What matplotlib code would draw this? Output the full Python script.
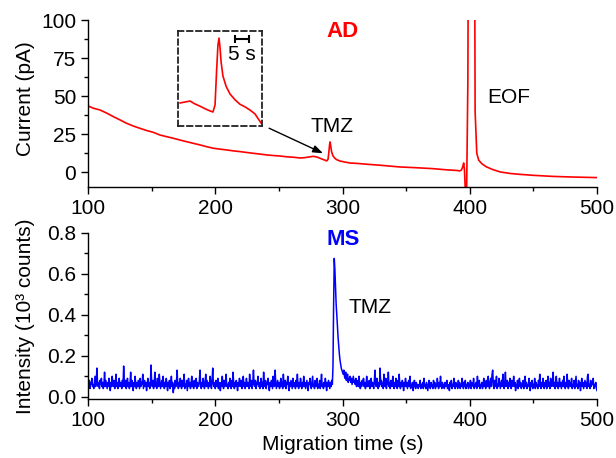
import numpy as np
import matplotlib
matplotlib.use("Agg")
import matplotlib.pyplot as plt
from matplotlib.ticker import MultipleLocator

plt.rcParams['font.family'] = ['Liberation Sans', 'DejaVu Sans']

# ---------------- data ----------------
# AD trace (current, pA) vs migration time (s)
ad_time = [100.2, 104, 109.4, 115, 119.9, 125, 130.4, 136, 140.9, 146, 151.3, 156.6, 161.9,
           167, 172.3, 177.6, 183, 188, 193, 198.5, 204, 209, 214, 219.5, 225, 229.9, 235,
           240.5, 246, 251, 256, 261.4, 266.6, 270, 274, 277, 280, 283, 285.5, 287.6, 288.6,
           289.3, 289.8, 290.2, 290.7, 291.4, 292.5, 294, 295.4, 298, 302, 306, 312, 319,
           330, 345, 358, 371, 382, 390, 392, 393.5, 394.6, 395.2, 395.8, 396.5, 397.5,
           398.5, 399.4, 401, 403.3, 404.2, 405.5, 407, 409.4, 413, 418, 424, 432, 440,
           450, 465, 480, 490, 500]
ad_current = [43.6, 42.2, 41.0, 38.8, 36.6, 34.5, 32.2, 30.3, 28.9, 27.5, 26.3, 24.5, 23.4,
              22.4, 21.2, 20.1, 19.0, 18.0, 16.9, 15.8, 15.2, 14.7, 14.1, 13.6, 13.0, 12.5, 12.0,
              11.4, 11.0, 10.7, 10.2, 9.9, 9.4, 9.6, 10.1, 10.5, 10.0, 9.0, 8.2, 7.5, 8.5,
              13.5, 18.0, 20.0, 17.5, 13.5, 10.8, 9.2, 8.3, 7.4, 6.7, 6.1, 5.8, 5.3,
              4.6, 3.5, 3.0, 2.4, 1.6, 1.2, 0.9, 1.5, 4.0, 6.1, 2.0, -12.0, -14.0,
              60.0, 300.0, 320.0, 300.0, 40.0, 12.5, 8.0, 5.7, 3.6, 1.8, 0.2, -0.8, -1.4,
              -2.0, -2.7, -3.1, -3.3, -3.5]

# Inset (zoom of the TMZ peak in the AD trace)
inset_time = [275.3, 277.2, 279.1, 281.0, 282.9, 284.8, 286.7, 287.8, 288.6, 289.2, 289.7,
              290.1, 290.5, 290.9, 291.6, 292.8, 294.3, 296.2, 298.1, 300.0, 301.9, 303.8, 306.1]
inset_current = [9.9, 10.06, 10.2, 9.74, 9.4, 9.0, 8.66, 8.5, 9.6, 15.0, 18.9,
                 20.0, 18.5, 16.3, 14.1, 12.5, 11.3, 10.4, 9.7, 9.3, 8.8, 8.2, 6.8]

# MS trace (intensity, 10^3 counts), sampled every 0.5 s from 100 s to 500 s
ms_start, ms_step = 100, 0.5
ms_intensity = [
    0.06,0.05,0.08,0.04,0.07,0.06,0.09,0.05,0.06,0.04,0.07,0.10,0.05,0.08,0.14,0.06,0.05,0.07,0.04,0.08,
    0.06,0.09,0.05,0.07,0.04,0.06,0.12,0.05,0.08,0.06,0.04,0.07,0.05,0.09,0.06,0.03,0.07,0.05,0.10,0.06,
    0.05,0.08,0.04,0.06,0.11,0.05,0.07,0.04,0.06,0.09,0.05,0.07,0.06,0.04,0.08,0.05,0.15,0.07,0.05,0.08,
    0.04,0.06,0.09,0.05,0.07,0.04,0.06,0.12,0.05,0.08,0.06,0.03,0.07,0.05,0.10,0.06,0.04,0.07,0.05,0.08,
    0.06,0.04,0.09,0.05,0.07,0.06,0.11,0.04,0.06,0.08,0.05,0.07,0.03,0.06,0.09,0.05,0.07,0.04,0.06,0.155,
    0.07,0.05,0.08,0.04,0.06,0.12,0.05,0.07,0.04,0.09,0.06,0.05,0.11,0.07,0.04,0.06,0.08,0.05,0.10,0.06,
    0.04,0.07,0.05,0.09,0.06,0.03,0.07,0.05,0.08,0.04,0.06,0.10,0.05,0.07,0.02,0.06,0.04,0.08,0.05,0.07,
    0.13,0.06,0.04,0.07,0.05,0.09,0.06,0.04,0.08,0.05,0.07,0.11,0.04,0.06,0.05,0.08,0.03,0.06,0.09,0.05,
    0.07,0.04,0.06,0.10,0.05,0.07,0.04,0.08,0.06,0.05,0.09,0.04,0.07,0.06,0.05,0.08,0.13,0.06,0.04,0.07,
    0.05,0.09,0.06,0.04,0.07,0.11,0.05,0.08,0.06,0.04,0.07,0.05,0.10,0.06,0.04,0.08,0.14,0.06,0.05,0.07,
    0.04,0.08,0.06,0.05,0.09,0.04,0.07,0.06,0.03,0.07,0.05,0.10,0.06,0.04,0.08,0.05,0.07,0.11,0.05,0.06,
    0.04,0.07,0.05,0.09,0.06,0.04,0.08,0.05,0.12,0.06,0.04,0.07,0.05,0.08,0.06,0.03,0.07,0.05,0.09,0.06,
    0.05,0.08,0.04,0.06,0.10,0.05,0.07,0.04,0.06,0.09,0.05,0.07,0.06,0.04,0.11,0.06,0.05,0.08,0.04,0.07,
    0.13,0.06,0.05,0.08,0.04,0.07,0.06,0.10,0.05,0.07,0.04,0.06,0.09,0.05,0.07,0.04,0.12,0.06,0.05,0.08,
    0.04,0.07,0.06,0.09,0.05,0.03,0.07,0.05,0.08,0.06,0.04,0.10,0.06,0.05,0.13,0.07,0.04,0.06,0.08,0.05,
    0.07,0.04,0.06,0.09,0.05,0.07,0.04,0.11,0.06,0.05,0.08,0.04,0.07,0.06,0.10,0.05,0.03,0.07,0.05,0.08,
    0.06,0.04,0.09,0.05,0.07,0.06,0.04,0.08,0.05,0.11,0.06,0.04,0.07,0.05,0.09,0.06,0.04,0.07,0.05,0.10,
    0.05,0.07,0.04,0.06,0.08,0.05,0.03,0.07,0.06,0.09,0.05,0.04,0.07,0.10,0.05,0.06,0.04,0.08,0.06,0.05,
    0.09,0.04,0.06,0.05,0.08,0.04,0.07,0.11,0.05,0.06,0.04,0.07,0.05,0.09,0.06,0.03,0.07,0.05,0.08,0.06,
    0.04,0.07,0.05,0.08,0.06,0.15,0.45,0.676,0.62,0.53,0.45,0.40,0.34,0.29,0.25,0.21,0.18,0.16,0.14,0.13,
    0.12,0.11,0.13,0.10,0.09,0.12,0.08,0.10,0.11,0.07,0.09,0.08,0.10,0.07,0.09,0.06,0.08,0.10,0.07,0.08,
    0.06,0.09,0.05,0.07,0.08,0.05,0.10,0.06,0.04,0.07,0.05,0.08,0.06,0.09,0.05,0.07,0.04,0.06,0.10,0.05,
    0.07,0.05,0.08,0.04,0.06,0.09,0.05,0.07,0.06,0.04,0.08,0.13,0.06,0.05,0.09,0.06,0.04,0.07,0.05,0.14,
    0.06,0.08,0.05,0.07,0.04,0.11,0.06,0.05,0.09,0.04,0.07,0.06,0.12,0.05,0.07,0.04,0.08,0.06,0.05,0.10,
    0.06,0.04,0.07,0.05,0.09,0.06,0.04,0.08,0.05,0.11,0.06,0.04,0.07,0.05,0.08,0.06,0.03,0.07,0.05,0.09,
    0.05,0.07,0.04,0.06,0.08,0.05,0.10,0.04,0.06,0.05,0.07,0.03,0.06,0.08,0.05,0.04,0.07,0.05,0.06,0.04,
    0.06,0.05,0.08,0.04,0.06,0.05,0.07,0.04,0.09,0.05,0.06,0.04,0.07,0.05,0.03,0.06,0.08,0.05,0.04,0.07,
    0.05,0.06,0.04,0.08,0.05,0.07,0.04,0.06,0.05,0.09,0.06,0.04,0.07,0.05,0.10,0.06,0.04,0.07,0.05,0.06,
    0.04,0.07,0.05,0.06,0.08,0.04,0.06,0.05,0.03,0.07,0.05,0.08,0.04,0.06,0.05,0.09,0.06,0.04,0.07,0.05,
    0.06,0.04,0.08,0.05,0.07,0.04,0.06,0.05,0.09,0.06,0.04,0.07,0.05,0.08,0.04,0.06,0.05,0.07,0.04,0.06,
    0.05,0.08,0.04,0.07,0.06,0.05,0.09,0.04,0.06,0.05,0.07,0.04,0.10,0.06,0.05,0.08,0.04,0.06,0.05,0.07,
    0.04,0.06,0.09,0.05,0.07,0.04,0.08,0.06,0.05,0.10,0.06,0.04,0.07,0.09,0.05,0.11,0.13,0.06,0.04,0.08,
    0.05,0.07,0.10,0.04,0.06,0.05,0.09,0.07,0.04,0.06,0.08,0.05,0.11,0.06,0.04,0.07,0.12,0.05,0.06,0.08,
    0.04,0.07,0.05,0.09,0.06,0.04,0.08,0.05,0.06,0.10,0.05,0.07,0.03,0.06,0.05,0.08,0.04,0.06,0.09,0.05,
    0.07,0.04,0.06,0.05,0.08,0.04,0.06,0.10,0.05,0.07,0.04,0.06,0.05,0.09,0.06,0.03,0.07,0.05,0.08,0.04,
    0.06,0.05,0.09,0.04,0.07,0.05,0.06,0.04,0.08,0.05,0.11,0.06,0.04,0.07,0.05,0.09,0.06,0.04,0.07,0.05,
    0.08,0.04,0.06,0.10,0.05,0.07,0.04,0.09,0.06,0.05,0.08,0.12,0.05,0.07,0.04,0.06,0.10,0.05,0.07,0.04,
    0.06,0.09,0.05,0.07,0.04,0.06,0.08,0.05,0.10,0.06,0.04,0.07,0.05,0.11,0.06,0.04,0.08,0.05,0.07,0.05,
    0.09,0.04,0.06,0.05,0.08,0.04,0.07,0.10,0.05,0.06,0.04,0.08,0.05,0.07,0.03,0.06,0.09,0.05,0.07,0.04,
    0.06,0.08,0.05,0.07,0.04,0.10,0.11,0.05,0.06,0.04,0.08,0.05,0.07,0.06,0.09,0.04,0.06,0.05,0.07,0.04,
    0.03]
ms_time = ms_start + ms_step * np.arange(len(ms_intensity))

x_ticks = [100, 200, 300, 400, 500]
ad_yticks = [0, 25, 50, 75, 100]
ms_yticks = [0.0, 0.2, 0.4, 0.6, 0.8]

RED = '#ff0000'
BLUE = '#0000ff'
FS = 15

fig = plt.figure(figsize=(6.16, 4.58), dpi=100)
ax1 = fig.add_axes([0.1429, 0.5923, 0.8263, 0.3634])
ax2 = fig.add_axes([0.1429, 0.1288, 0.8263, 0.3625])

for ax in (ax1, ax2):
    ax.spines['top'].set_visible(False)
    ax.spines['right'].set_visible(False)
    for s in ('left', 'bottom'):
        ax.spines[s].set_linewidth(1.0)
    ax.set_xlim(100, 500)
    ax.set_xticks(x_ticks)
    ax.xaxis.set_minor_locator(MultipleLocator(50))
    ax.tick_params(which='major', direction='out', length=5, width=1.0, labelsize=FS)
    ax.tick_params(which='minor', direction='out', length=3, width=1.0)

# --- top: AD ---
ax1.plot(ad_time, ad_current, color=RED, lw=1.2)
ax1.set_ylim(-9.5, 100)
ax1.set_yticks(ad_yticks)
ax1.yaxis.set_minor_locator(MultipleLocator(12.5))
ax1.set_ylabel('Current (pA)', fontsize=FS)
ax1.yaxis.set_label_coords(-0.104, 0.53)
ax1.text(299.6, 92.3, 'AD', color=RED, fontsize=16, fontweight='bold', ha='center', va='center')
ax1.text(291.8, 30.4, 'TMZ', color='black', fontsize=FS, ha='center', va='center')
ax1.text(430.9, 49.5, 'EOF', color='black', fontsize=FS, ha='center', va='center')
ax1.annotate('', xy=(284.7, 12.5), xytext=(242.3, 29.0),
             arrowprops=dict(arrowstyle='-|>,head_length=0.6,head_width=0.22',
                             color='black', lw=1.0, shrinkA=0, shrinkB=0))

# inset
axi = fig.add_axes([0.2890, 0.7249, 0.1364, 0.2074])
axi.plot(inset_time, inset_current, color=RED, lw=1.2)
axi.set_xlim(274.5, 306.5)
axi.set_ylim(6.32, 21.1)
axi.set_xticks([])
axi.set_yticks([])
for s in axi.spines.values():
    s.set_linestyle((0, (3, 2)))
    s.set_linewidth(1.3)
    s.set_color('#222222')
axi.errorbar(298.85, 19.85, xerr=2.5, color='black', lw=1.5, capsize=3, capthick=1.5)
axi.text(298.9, 17.4, '5 s', fontsize=FS, ha='center', va='center')

# --- bottom: MS ---
ax2.plot(ms_time, ms_intensity, color=BLUE, lw=1.1)
ax2.set_ylim(-0.011, 0.8)
ax2.set_yticks(ms_yticks)
ax2.set_yticklabels([f'{v:.1f}' for v in ms_yticks])
ax2.yaxis.set_minor_locator(MultipleLocator(0.1))
ax2.set_ylabel('Intensity (10³ counts)', fontsize=FS)
ax2.yaxis.set_label_coords(-0.104, 0.5)
ax2.set_xlabel('Migration time (s)', fontsize=FS, labelpad=4)
ax2.text(300.4, 0.766, 'MS', color=BLUE, fontsize=16, fontweight='bold', ha='center', va='center')
ax2.text(321.7, 0.438, 'TMZ', color='black', fontsize=FS, ha='center', va='center')

fig.savefig('out.png', dpi=100)
